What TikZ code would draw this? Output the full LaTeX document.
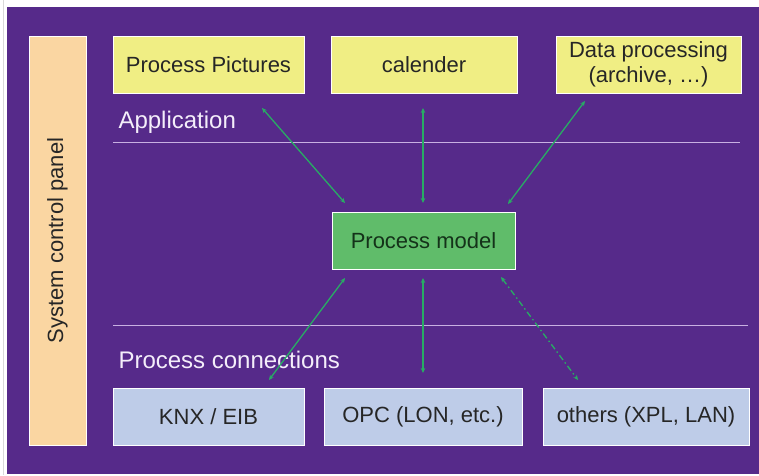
\documentclass[tikz,border=0pt]{standalone}
\usepackage{fontspec}
\setmainfont{Liberation Sans}
\usetikzlibrary{arrows.meta}
\definecolor{bgpurple}{RGB}{86,42,138}
\definecolor{appyellow}{RGB}{240,238,132}
\definecolor{modelgreen}{RGB}{96,188,106}
\definecolor{connblue}{RGB}{190,204,232}
\definecolor{panelpeach}{RGB}{250,214,162}
\definecolor{linkgreen}{RGB}{40,172,100}
\definecolor{seplilac}{RGB}{200,176,226}
\definecolor{labelwhite}{RGB}{244,238,250}

\begin{document}
\begin{tikzpicture}[x=1pt, y=-1pt,
  box/.style={draw=white, line width=1pt, minimum height=57pt, inner sep=0pt,
    text=black!85, align=center, font=\fontsize{22}{25}\selectfont},
  link/.style={draw=linkgreen, line width=1.3pt,
    {Stealth[length=5pt,width=4.5pt]}-{Stealth[length=5pt,width=4.5pt]}},
  layer/.style={anchor=base west, text=labelwhite, font=\fontsize{24}{28}\selectfont}]
  % background and frame
  \useasboundingbox (0,0) rectangle (759,475);
  \fill[white] (0,0) rectangle (759,475);
  \draw[gray!30] (3,0) -- (3,475);
  \fill[bgpurple] (7,7) rectangle (759,474);
  % side panel
  \node[box, fill=panelpeach, minimum width=57pt, minimum height=409pt] (panel) at (57.5,240.5)
    {\rotatebox{90}{System control panel}};
  % application layer
  \node[box, fill=appyellow, minimum width=191pt] (pictures) at (208.5,64.5) {Process Pictures};
  \node[box, fill=appyellow, minimum width=186pt] (calender) at (424,64.5) {calender};
  \node[box, fill=appyellow, minimum width=185pt] (dataproc) at (648.5,64.5) {Data processing\\(archive, …)};
  \node[layer] (applabel) at (115,128) {Application};
  \draw[seplilac, line width=0.8pt] (113,142) coordinate (sepA) -- (740,142) coordinate (sepB);
  % process model
  \node[box, fill=modelgreen, minimum width=183pt, text={rgb,255:red,20;green,50;blue,25}] (model) at (423.5,240.5) {Process model};
  % connection layer
  \draw[seplilac, line width=0.8pt] (113,325) coordinate (sepC) -- (748,325) coordinate (sepD);
  \node[layer] (connlabel) at (115,368) {Process connections};
  \node[box, fill=connblue, minimum width=191pt] (knx) at (208.5,416.5) {KNX / EIB};
  \node[box, fill=connblue, minimum width=198pt] (opc) at (423,416.5) {OPC (LON, etc.)};
  \node[box, fill=connblue, minimum width=206pt] (others) at (646,416.5) {others (XPL, LAN)};
  % arrow ends
  \coordinate (p1) at (262,108);  \coordinate (m1) at (345,203);
  \coordinate (c1) at (423,108);  \coordinate (m2) at (423,203);
  \coordinate (d1) at (585,101);  \coordinate (m3) at (508,204);
  \coordinate (m4) at (345,278);  \coordinate (k1) at (269,380);
  \coordinate (m5) at (423,278);  \coordinate (o1) at (423,373);
  \coordinate (m6) at (501,277);  \coordinate (x1) at (578,380);
  % links
  \draw[link] (p1) -- (m1);
  \draw[link] (c1) -- (m2);
  \draw[link] (d1) -- (m3);
  \draw[link] (m4) -- (k1);
  \draw[link] (m5) -- (o1);
  \draw[link, dash pattern=on 6pt off 3pt on 1.5pt off 3pt] (m6) -- (x1);
\end{tikzpicture}
\end{document}
